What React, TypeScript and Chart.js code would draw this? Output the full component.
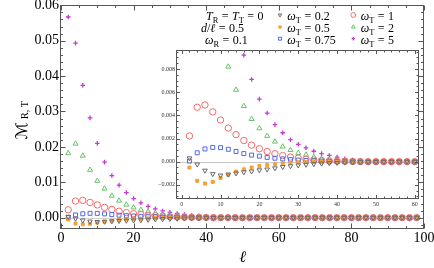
import React, { useEffect, useRef } from 'react';
import { Chart, registerables } from 'chart.js';
import { drawPoint } from 'chart.js/helpers';

Chart.register(...registerables);

// ---------- data ----------
const ell = [2, 4, 6, 8, 10, 12, 14, 16, 18, 20, 22, 24, 26, 28, 30, 32, 34, 36, 38, 40, 42, 44, 46, 48, 50,
  52, 54, 56, 58, 60, 62, 64, 66, 68, 70, 72, 74, 76, 78, 80, 82, 84, 86, 88, 90, 92, 94, 96, 98];

const wT02 = [0.0003, -0.00023, -0.00076, -0.00106, -0.00118, -0.0011, -0.001, -0.0009, -0.00083, -0.00073,
  -0.00066, -0.00056, -0.00045, -0.00038, -0.00031, -0.00025, -0.0002, -0.00015, -0.00012, -0.00009,
  -0.00006, -0.00004, -0.00003, -0.00002, -0.00001,
  0, 0, 0, 0, 0, 0, 0, 0, 0, 0, 0, 0, 0, 0, 0, 0, 0, 0, 0, 0, 0, 0, 0, 0];

const wT05 = [-0.0005, -0.00165, -0.00188, -0.00174, -0.0014, -0.00112, -0.00085, -0.00066, -0.0005, -0.00037,
  -0.00029, -0.00022, -0.00014, -0.00009, -0.00005, -0.00003, -0.00002, -0.00001,
  0, 0, 0, 0, 0, 0, 0, 0, 0, 0, 0, 0, 0, 0, 0, 0, 0, 0, 0, 0, 0, 0, 0, 0, 0, 0, 0, 0, 0, 0, 0];

const wT075 = [0.00005, 0.00077, 0.0011, 0.00123, 0.00121, 0.00107, 0.00088, 0.0007, 0.00057, 0.00048,
  0.00037, 0.0003, 0.00024, 0.00018, 0.00014, 0.0001, 0.00007, 0.00005, 0.00003, 0.00002, 0.00001,
  0, 0, 0, 0, 0, 0, 0, 0, 0, 0, 0, 0, 0, 0, 0, 0, 0, 0, 0, 0, 0, 0, 0, 0, 0, 0, 0, 0];

const wT1 = [0.00222, 0.0047, 0.0049, 0.0043, 0.0036, 0.0029, 0.00234, 0.00183, 0.00143, 0.00112,
  0.00088, 0.00069, 0.00053, 0.0004, 0.0003, 0.00021, 0.00014, 0.0001, 0.00007, 0.00005, 0.00003,
  0.00002, 0.00001,
  0, 0, 0, 0, 0, 0, 0, 0, 0, 0, 0, 0, 0, 0, 0, 0, 0, 0, 0, 0, 0, 0, 0, 0, 0, 0];

const wT2 = [0.0182, 0.0209, 0.0175, 0.0135, 0.0104, 0.0082, 0.0062, 0.0048, 0.00368, 0.00288,
  0.00222, 0.00173, 0.0013, 0.001, 0.00075, 0.0006, 0.0004, 0.00025, 0.00015, 0.00008, 0.00005,
  0.00003, 0.00002, 0.00001,
  0, 0, 0, 0, 0, 0, 0, 0, 0, 0, 0, 0, 0, 0, 0, 0, 0, 0, 0, 0, 0, 0, 0, 0, 0];

const wT5 = [0.0567, 0.0493, 0.0374, 0.0282, 0.021, 0.0157, 0.0119, 0.0092, 0.0071, 0.0054,
  0.0042, 0.0032, 0.0025, 0.0019, 0.0015, 0.0012, 0.0009, 0.0007, 0.00054, 0.0004, 0.00026,
  0.00015, 0.0001, 0.00006, 0.00004, 0.00002, 0.00001,
  0, 0, 0, 0, 0, 0, 0, 0, 0, 0, 0, 0, 0, 0, 0, 0, 0, 0, 0, 0, 0, 0];

const seriesLabels = ['0.2', '0.5', '0.75', '1', '2', '5'];
const seriesValues = [wT02, wT05, wT075, wT1, wT2, wT5];

const mainXTicks = [0, 20, 40, 60, 80, 100];
const mainYTicks = [0, 0.01, 0.02, 0.03, 0.04, 0.05, 0.06];
const insetXTicks = [0, 10, 20, 30, 40, 50, 60];
const insetYTicks = [-0.002, 0, 0.002, 0.004, 0.006, 0.008];

// ---------- styles ----------
const SERIF = "'Liberation Serif', 'DejaVu Serif', serif";
const CLEAR = 'rgba(255,255,255,0)';
const styles = [
  { color: '#6a6a6a', pointStyle: 'triangle', rotation: 180, radius: 2.7, fill: false, bw: 1 },
  { color: '#f5a035', pointStyle: 'rect', rotation: 0, radius: 2.1, fill: true, bw: 1 },
  { color: '#5468e8', pointStyle: 'rect', rotation: 0, radius: 2.8, fill: false, bw: 1 },
  { color: '#f56a6a', pointStyle: 'circle', rotation: 0, radius: 3.2, fill: false, bw: 1 },
  { color: '#66c466', pointStyle: 'triangle', rotation: 0, radius: 2.9, fill: false, bw: 1 },
  { color: '#c63ad6', pointStyle: 'cross', rotation: 0, radius: 2.3, fill: false, bw: 1.3 },
];

function makeDatasets() {
  return seriesValues.map((vals, i) => {
    const s = styles[i];
    return {
      label: 'ωT = ' + seriesLabels[i],
      data: ell.map((x, j) => ({ x, y: vals[j] })),
      showLine: false,
      pointStyle: s.pointStyle,
      rotation: s.rotation,
      pointRadius: s.radius,
      pointBorderWidth: s.bw,
      borderColor: s.color,
      backgroundColor: s.fill ? s.color : CLEAR,
      pointBackgroundColor: s.fill ? s.color : CLEAR,
      pointBorderColor: s.color,
    };
  });
}

// ---------- plugins ----------
const framePlugin = {
  id: 'frame',
  beforeDatasetsDraw(chart: any, _a: any, o: any) {
    const { ctx, chartArea: a, scales } = chart;
    ctx.save();
    if (o.bg) {
      ctx.fillStyle = o.bg;
      ctx.fillRect(a.left, a.top, a.right - a.left, a.bottom - a.top);
    }
    const y0 = Math.round(scales.y.getPixelForValue(0)) + 0.5;
    ctx.strokeStyle = o.axisColor;
    ctx.lineWidth = 1;
    ctx.beginPath();
    ctx.moveTo(a.left, y0);
    ctx.lineTo(a.right, y0);
    ctx.stroke();
    ctx.restore();
  },
  afterDatasetsDraw(chart: any, _a: any, o: any) {
    const { ctx, chartArea: a, scales } = chart;
    const xs = scales.x, ys = scales.y;
    ctx.save();
    ctx.strokeStyle = o.color;
    ctx.lineWidth = 1;
    const L = Math.round(a.left) - 0.5, R = Math.round(a.right) - 0.5;
    const T = Math.round(a.top) + 0.5, B = Math.round(a.bottom) - 0.5;
    ctx.beginPath();
    const rx = Math.round(o.majorX / o.minorX);
    for (let k = Math.ceil(xs.min / o.minorX - 1e-9); k * o.minorX <= xs.max + 1e-9; k++) {
      const len = k % rx === 0 ? o.majorLen : o.minorLen;
      const px = Math.round(xs.getPixelForValue(k * o.minorX)) + 0.5;
      ctx.moveTo(px, B); ctx.lineTo(px, B - len);
      ctx.moveTo(px, T); ctx.lineTo(px, T + len);
    }
    const ry = Math.round(o.majorY / o.minorY);
    for (let k = Math.ceil(ys.min / o.minorY - 1e-9); k * o.minorY <= ys.max + 1e-12; k++) {
      const len = k % ry === 0 ? o.majorLen : o.minorLen;
      const py = Math.round(ys.getPixelForValue(k * o.minorY)) + 0.5;
      ctx.moveTo(L, py); ctx.lineTo(L + len, py);
      ctx.moveTo(R, py); ctx.lineTo(R - len, py);
    }
    ctx.stroke();
    ctx.strokeRect(L, T, R - L, B - T);
    ctx.restore();
  },
};

type Part = { t?: string; it?: boolean; sub?: boolean; gap?: number };

function drawRich(ctx: CanvasRenderingContext2D, x: number, baseline: number, parts: Part[], size: number) {
  let cx = x;
  for (const p of parts) {
    if (p.gap) { cx += p.gap; continue; }
    const fs = p.sub ? size * 0.7 : size;
    ctx.font = `${p.it ? 'italic ' : ''}${fs}px ${SERIF}`;
    ctx.fillText(p.t || '', cx, baseline + (p.sub ? size * 0.25 : 0));
    cx += ctx.measureText(p.t || '').width;
  }
  return cx;
}

const EQ: Part[] = [{ gap: 3.5 }, { t: '=' }, { gap: 3.5 }];

const textPlugin = {
  id: 'texts',
  afterDraw(chart: any) {
    const { ctx, chartArea: a } = chart;
    ctx.save();
    ctx.fillStyle = '#000';
    ctx.textAlign = 'left';
    ctx.textBaseline = 'alphabetic';

    // x axis title
    ctx.font = `italic 16px ${SERIF}`;
    ctx.textAlign = 'center';
    ctx.fillText('ℓ', (a.left + a.right) / 2, 261.5);
    ctx.textAlign = 'left';

    // y axis title
    ctx.save();
    ctx.translate(26.5, 139.5);
    ctx.rotate(-Math.PI / 2);
    ctx.font = `16px 'DejaVu Serif', 'DejaVu Sans', serif`;
    ctx.fillText('ℳ', 0, 0);
    ctx.font = `10px ${SERIF}`;
    ctx.fillText('R, T', 20.5, 1.8);
    ctx.restore();

    // legend: parameters
    const fs = 12;
    const b1 = 19.5, b2 = 31.5, b3 = 44;
    drawRich(ctx, 206, b1, [{ t: 'T', it: true }, { t: 'R', sub: true }, ...EQ, { t: 'T', it: true }, { t: 'T', sub: true }, ...EQ, { t: '0' }], fs);
    drawRich(ctx, 201, b2, [{ t: 'd', it: true }, { t: '/' }, { t: 'ℓ', it: true }, ...EQ, { t: '0.5' }], fs);
    drawRich(ctx, 205, b3, [{ t: 'ω', it: true }, { t: 'R', sub: true }, ...EQ, { t: '0.1' }], fs);

    // legend: series
    const cols = [{ mx: 280, tx: 287.3 }, { mx: 353.3, tx: 360.7 }];
    const rows = [{ my: 15, b: b1 }, { my: 27, b: b2 }, { my: 38.7, b: b3 }];
    seriesLabels.forEach((lab, i) => {
      const c = cols[Math.floor(i / 3)], r = rows[i % 3];
      const s = styles[i];
      ctx.save();
      ctx.strokeStyle = s.color;
      ctx.fillStyle = s.fill ? s.color : CLEAR;
      ctx.lineWidth = s.bw;
      drawPoint(ctx, { pointStyle: s.pointStyle, rotation: s.rotation, radius: s.radius * 0.75, borderWidth: s.bw } as any, c.mx, r.my);
      ctx.restore();
      ctx.fillStyle = '#000';
      drawRich(ctx, c.tx, r.b, [{ t: 'ω', it: true }, { t: 'T', sub: true }, ...EQ, { t: lab }], fs);
    });
    ctx.restore();
  },
};

export default function App() {
  const mainRef = useRef<HTMLCanvasElement>(null);
  const insetRef = useRef<HTMLCanvasElement>(null);

  useEffect(() => {
    const main = new Chart(mainRef.current as HTMLCanvasElement, {
      type: 'scatter',
      data: { datasets: makeDatasets() as any },
      options: {
        responsive: false,
        animation: false,
        events: [],
        layout: { padding: { top: 5, right: 10, left: 0, bottom: 0 } },
        scales: {
          x: {
            type: 'linear', min: 0, max: 100,
            afterBuildTicks: (s: any) => { s.ticks = mainXTicks.map((v) => ({ value: v })); },
            afterFit: (s: any) => { s.height = 39; s.paddingLeft = 0; s.paddingRight = 0; },
            grid: { display: false, drawTicks: false },
            border: { display: false },
            ticks: {
              font: { family: SERIF, size: 14 }, color: '#000', padding: 1,
              maxRotation: 0, autoSkip: false, callback: (v: any) => String(v),
            },
          },
          y: {
            type: 'linear', min: -0.0032, max: 0.06,
            afterBuildTicks: (s: any) => { s.ticks = mainYTicks.map((v) => ({ value: v })); },
            afterFit: (s: any) => { s.width = 61; s.paddingTop = 0; s.paddingBottom = 0; },
            grid: { display: false, drawTicks: false },
            border: { display: false },
            ticks: {
              font: { family: SERIF, size: 14 }, color: '#000', padding: 2,
              autoSkip: false, callback: (v: any) => Number(v).toFixed(2),
            },
          },
        },
        plugins: {
          legend: { display: false },
          tooltip: { enabled: false },
          frame: { color: '#555', axisColor: '#d0d0d0', majorX: 20, minorX: 5, majorY: 0.01, minorY: 0.002, majorLen: 5, minorLen: 2.5 },
        } as any,
      },
      plugins: [framePlugin, textPlugin],
    });

    const inset = new Chart(insetRef.current as HTMLCanvasElement, {
      type: 'scatter',
      data: { datasets: makeDatasets() as any },
      options: {
        responsive: false,
        animation: false,
        events: [],
        layout: { padding: { top: 6, right: 5, left: 0, bottom: 0 } },
        scales: {
          x: {
            type: 'linear', min: -1.2, max: 61,
            afterBuildTicks: (s: any) => { s.ticks = insetXTicks.map((v) => ({ value: v })); },
            afterFit: (s: any) => { s.height = 15; s.paddingLeft = 0; s.paddingRight = 0; },
            grid: { display: false, drawTicks: false },
            border: { display: false },
            ticks: {
              font: { family: SERIF, size: 6 }, color: '#333', padding: 2,
              maxRotation: 0, autoSkip: false, callback: (v: any) => String(v),
            },
          },
          y: {
            type: 'linear', min: -0.00322, max: 0.00964,
            afterBuildTicks: (s: any) => { s.ticks = insetYTicks.map((v) => ({ value: v })); },
            afterFit: (s: any) => { s.width = 27; s.paddingTop = 0; s.paddingBottom = 0; },
            grid: { display: false, drawTicks: false },
            border: { display: false },
            ticks: {
              font: { family: SERIF, size: 6 }, color: '#333', padding: 2, autoSkip: false,
              callback: (v: any) => (Number(v) < -1e-12 ? '−' : '') + Math.abs(Number(v)).toFixed(3),
            },
          },
        },
        plugins: {
          legend: { display: false },
          tooltip: { enabled: false },
          frame: { bg: '#ffffff', color: '#555', axisColor: '#c8c8c8', majorX: 10, minorX: 2, majorY: 0.002, minorY: 0.0005, majorLen: 3.5, minorLen: 2 },
        } as any,
      },
      plugins: [framePlugin],
    });

    return () => { main.destroy(); inset.destroy(); };
  }, []);

  return (
    <div style={{ position: 'fixed', left: 0, top: 0, width: 434, height: 268, background: '#fff' }}>
      <canvas ref={mainRef} width={434} height={268}
        style={{ position: 'absolute', left: 0, top: 0, width: 434, height: 268, display: 'block' }} />
      <canvas ref={insetRef} width={274} height={170}
        style={{ position: 'absolute', left: 150, top: 44, width: 274, height: 170, display: 'block' }} />
    </div>
  );
}
